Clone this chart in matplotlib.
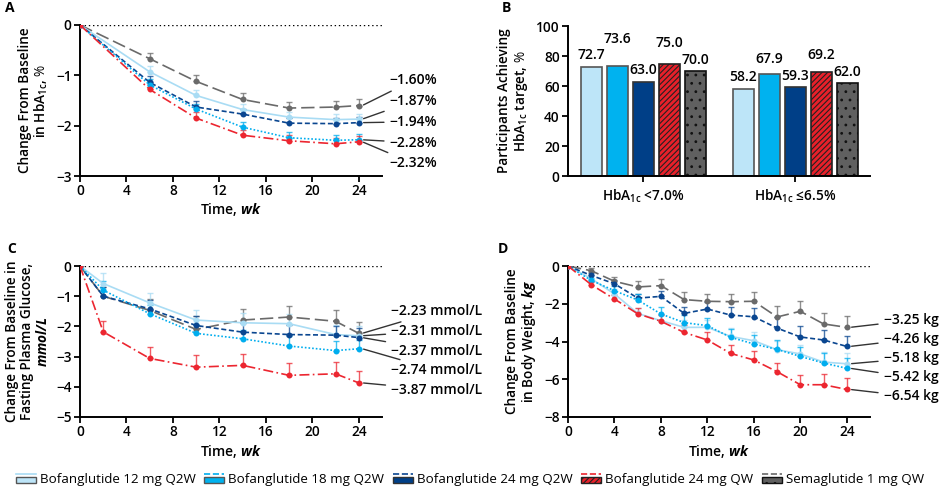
import matplotlib
matplotlib.use('Agg')
import matplotlib.pyplot as plt
from matplotlib.lines import Line2D
from matplotlib.patches import Rectangle
from matplotlib.legend_handler import HandlerBase

plt.rcParams['font.family'] = ['Open Sans', 'DejaVu Sans']
plt.rcParams['mathtext.fontset'] = 'custom'
plt.rcParams['mathtext.default'] = 'regular'
plt.rcParams['mathtext.rm'] = 'Open Sans'
plt.rcParams['mathtext.it'] = 'Open Sans:italic'
plt.rcParams['mathtext.bf'] = 'Open Sans:bold'
plt.rcParams['mathtext.bfit'] = 'Open Sans:italic:bold'
plt.rcParams['hatch.linewidth'] = 0.8
plt.rcParams['axes.unicode_minus'] = True

# ---- data ----
series = ['Bofanglutide 12 mg Q2W', 'Bofanglutide 18 mg Q2W', 'Bofanglutide 24 mg Q2W',
          'Bofanglutide 24 mg QW', 'Semaglutide 1 mg QW']

# A: HbA1c change, %
weeks_a = [0, 6, 10, 14, 18, 22, 24]
hba1c = [
    [0, -0.93, -1.40, -1.68, -1.83, -1.88, -1.87],
    [0, -1.19, -1.67, -2.03, -2.24, -2.29, -2.28],
    [0, -1.14, -1.63, -1.77, -1.95, -1.96, -1.94],
    [0, -1.28, -1.85, -2.19, -2.30, -2.36, -2.32],
    [0, -0.67, -1.12, -1.48, -1.65, -1.63, -1.60],
]
hba1c_err = [
    [0, 0.11, 0.11, 0.11, 0.11, 0.11, 0.11],
    [0, 0.11, 0.11, 0.11, 0.11, 0.11, 0.11],
    [0, 0.12, 0.12, 0.11, 0.11, 0.11, 0.11],
    [0, 0.11, 0.12, 0.11, 0.11, 0.11, 0.11],
    [0, 0.12, 0.12, 0.12, 0.12, 0.12, 0.12],
]

# B: participants achieving target, %
targets = ['HbA$_{1c}$ <7.0%', 'HbA$_{1c}$ \u22646.5%']
achieved = [
    [72.7, 58.2],
    [73.6, 67.9],
    [63.0, 59.3],
    [75.0, 69.2],
    [70.0, 62.0],
]

# C: fasting plasma glucose change, mmol/L
weeks_c = [0, 2, 6, 10, 14, 18, 22, 24]
fpg = [
    [0, -0.58, -1.22, -1.79, -1.88, -1.91, -2.27, -2.31],
    [0, -0.80, -1.58, -2.23, -2.41, -2.65, -2.80, -2.74],
    [0, -1.00, -1.42, -1.97, -2.19, -2.27, -2.29, -2.37],
    [0, -2.18, -3.06, -3.35, -3.29, -3.62, -3.57, -3.87],
    [0, -1.00, -1.47, -2.10, -1.79, -1.69, -1.83, -2.23],
]
fpg_err = [
    [0, 0.35, 0.33, 0.33, 0.33, 0.33, 0.33, 0.33],
    [0, 0.30, 0.30, 0.30, 0.30, 0.33, 0.33, 0.30],
    [0, 0.30, 0.30, 0.32, 0.30, 0.30, 0.30, 0.32],
    [0, 0.36, 0.39, 0.40, 0.39, 0.40, 0.39, 0.39],
    [0, 0.32, 0.38, 0.45, 0.35, 0.36, 0.37, 0.37],
]

# D: body weight change, kg
weeks_d = [0, 2, 4, 6, 8, 10, 12, 14, 16, 18, 20, 22, 24]
weight = [
    [0, -0.67, -1.48, -2.51, -2.90, -3.25, -3.25, -3.73, -3.96, -4.43, -4.66, -5.09, -5.18],
    [0, -0.76, -1.31, -1.80, -2.54, -3.00, -3.16, -3.78, -4.13, -4.42, -4.79, -5.14, -5.42],
    [0, -0.50, -0.94, -1.70, -1.61, -2.51, -2.28, -2.60, -2.69, -3.29, -3.76, -3.92, -4.26],
    [0, -0.99, -1.75, -2.53, -2.93, -3.52, -3.92, -4.63, -4.98, -5.60, -6.29, -6.29, -6.54],
    [0, -0.25, -0.81, -1.11, -1.04, -1.78, -1.87, -1.89, -1.87, -2.70, -2.40, -3.07, -3.25],
]
weight_err = [
    [0, 0.15, 0.25, 0.30, 0.35, 0.40, 0.40, 0.42, 0.45, 0.48, 0.50, 0.55, 0.58],
    [0, 0.15, 0.25, 0.30, 0.38, 0.40, 0.42, 0.45, 0.48, 0.50, 0.52, 0.55, 0.55],
    [0, 0.15, 0.22, 0.21, 0.30, 0.34, 0.35, 0.42, 0.46, 0.57, 0.57, 0.53, 0.57],
    [0, 0.15, 0.22, 0.30, 0.35, 0.40, 0.42, 0.42, 0.50, 0.48, 0.53, 0.58, 0.60],
    [0, 0.15, 0.23, 0.30, 0.37, 0.39, 0.40, 0.39, 0.48, 0.57, 0.53, 0.58, 0.60],
]

# ---- styles ----
line_colors = ['#a9dcf4', '#00adee', '#0a4690', '#ec2630', '#6a6a6a']
line_styles = ['-', (0, (1, 1.2)), (0, (3, 1.6)), (0, (6, 2, 1, 2)), (0, (8, 3))]
bar_faces = ['#bde5f8', '#00b2ef', '#003f87', '#e8202a', '#606060']
bar_edges = ['#555555', '#555555', '#333333', '#222222', '#111111']
bar_hatch = [None, None, None, '//////', '..']

fig = plt.figure(figsize=(9.4, 4.87), dpi=100)
W, H = 940, 487


def place(x0, y0, x1, y1):
    return fig.add_axes([x0 / W, 1 - y1 / H, (x1 - x0) / W, (y1 - y0) / H])


def style_axes(ax):
    for s in ['top', 'right']:
        ax.spines[s].set_visible(False)
    for s in ['left', 'bottom']:
        ax.spines[s].set_linewidth(1.4)
    ax.tick_params(width=1.3, length=4, labelsize=9.8, pad=2)
    for lab in ax.get_xticklabels() + ax.get_yticklabels():
        lab.set_fontweight('semibold')


def line_panel(ax, weeks, data, errs, ylim, yticks, fmt, first_frac, step, text_x):
    ax.plot([0, 26], [0, 0], color='black', ls=(0, (1, 2)), lw=1.0, zorder=1)
    for i in [4, 0, 2, 1, 3]:
        c = line_colors[i]
        ax.errorbar(weeks[1:], data[i][1:], yerr=[[0] * (len(weeks) - 1), errs[i][1:]],
                    fmt='none', ecolor=c, elinewidth=1.0, capsize=2.5, capthick=1.0,
                    alpha=0.75, zorder=2)
        ax.plot(weeks, data[i], color=c, ls=line_styles[i], lw=1.2, marker='o',
                markersize=4.3, markeredgewidth=0, zorder=3)
    ax.set_xlim(0, 26)
    ax.set_ylim(*ylim)
    ax.set_xticks(range(0, 25, 4))
    ax.set_yticks(yticks)
    style_axes(ax)
    # end-of-line labels with leader lines
    order = sorted(range(5), key=lambda k: -data[k][-1])
    for rank, k in enumerate(order):
        v = data[k][-1]
        yf = first_frac - rank * step
        ax.annotate(fmt.format(v).replace('-', '\u2212'),
                    xy=(24.3, v), xycoords='data',
                    xytext=(text_x, yf), textcoords='axes fraction',
                    ha='left', va='center', fontsize=10, fontweight='semibold',
                    annotation_clip=False,
                    arrowprops=dict(arrowstyle='-', color='#333333', lw=1.0,
                                    shrinkA=2, shrinkB=1))


# A
axA = place(80, 25, 382, 176)
line_panel(axA, weeks_a, hba1c, hba1c_err, (-3, 0), [0, -1, -2, -3], '{:.2f}%', 0.635, 0.138, 1.025)
axA.set_xlabel('Time, $\\mathbfit{wk}$', fontsize=10, fontweight='semibold', labelpad=2)
axA.set_ylabel('Change From Baseline\nin HbA$_{1c}$, $\\mathit{\\%}$', fontsize=9.8,
               fontweight='semibold', labelpad=4, linespacing=1.1)

# B
axB = place(568, 26, 870, 176)
offset, bw = 26 / 152, 21 / 152
label_y = [[0, 0] for _ in range(5)]
for g in range(2):
    base = [achieved[i][g] + 3 for i in range(5)]
    for i in range(5):
        y = base[i]
        if i % 2 == 1:
            y = max(y, base[i - 1] + 11, base[i + 1] + 11)
        label_y[i][g] = y
for i in range(5):
    xs = [g + (i - 2) * offset for g in range(2)]
    axB.bar(xs, achieved[i], width=bw, color=bar_faces[i], edgecolor=bar_edges[i],
            linewidth=1.2, hatch=bar_hatch[i], zorder=2)
    for g in range(2):
        axB.text(xs[g], label_y[i][g], f'{achieved[i][g]:.1f}', ha='center', va='bottom',
                 fontsize=10, fontweight='semibold')
axB.set_xlim(-75 / 152, 1 + 75 / 152)
axB.set_ylim(0, 100)
axB.set_yticks(range(0, 101, 20))
axB.set_xticks([0, 1])
axB.set_xticklabels(targets)
style_axes(axB)
axB.tick_params(axis='x', pad=4)
axB.set_ylabel('Participants Achieving\nHbA$_{1c}$ target, $\\mathit{\\%}$', fontsize=9.8,
               fontweight='semibold', labelpad=4, linespacing=1.1)

# C
axC = place(80, 266, 382, 417)
line_panel(axC, weeks_c, fpg, fpg_err, (-5, 0), [0, -1, -2, -3, -4, -5], '{:.2f} mmol/L',
           0.70, 0.13, 1.03)
axC.set_xlabel('Time, $\\mathbfit{wk}$', fontsize=10, fontweight='semibold', labelpad=3)
axC.set_ylabel('Change From Baseline in\nFasting Plasma Glucose,\n$\\mathbfit{mmol/L}$',
               fontsize=9.8, fontweight='semibold', labelpad=4, linespacing=1.1)

# D
axD = place(568, 266, 870, 417)
line_panel(axD, weeks_d, weight, weight_err, (-8, 0), [0, -2, -4, -6, -8], '{:.2f} kg',
           0.64, 0.126, 1.045)
axD.set_xlabel('Time, $\\mathbfit{wk}$', fontsize=10, fontweight='semibold', labelpad=3)
axD.set_ylabel('Change From Baseline\nin Body Weight, $\\mathbfit{kg}$', fontsize=9.8,
               fontweight='semibold', labelpad=4, linespacing=1.1)

for lab, (x, y) in zip('ABCD', [(10, 8), (506, 8), (12, 249), (503, 249)]):
    fig.text(x / W, 1 - y / H, lab, fontsize=10, fontweight='bold', ha='center', va='center')


# legend: line sample above a bar swatch
class PairHandler(HandlerBase):
    def create_artists(self, legend, orig_handle, xdescent, ydescent, width, height,
                       fontsize, trans):
        ln, pt = orig_handle
        rect = Rectangle((-xdescent, -ydescent), width, height * 0.6,
                         facecolor=pt.get_facecolor(), edgecolor=pt.get_edgecolor(),
                         hatch=pt.get_hatch(), linewidth=1.0, transform=trans)
        yl = -ydescent + height * 0.95
        line = Line2D([-xdescent, -xdescent + width], [yl, yl], color=ln.get_color(),
                      ls=ln.get_linestyle(), lw=1.2, transform=trans)
        return [rect, line]


handles = []
for i in range(5):
    ln = Line2D([], [], color=line_colors[i], ls=line_styles[i])
    pt = Rectangle((0, 0), 1, 1, facecolor=bar_faces[i], edgecolor=bar_edges[i],
                   hatch=bar_hatch[i])
    handles.append((ln, pt))
fig.legend(handles, series, handler_map={tuple: PairHandler()}, loc='center',
           bbox_to_anchor=(0.5, 1 - 479 / H), ncol=5, frameon=False, fontsize=9.6,
           handlelength=1.5, handletextpad=0.3, columnspacing=0.65)

fig.savefig('out.png', dpi=100)
